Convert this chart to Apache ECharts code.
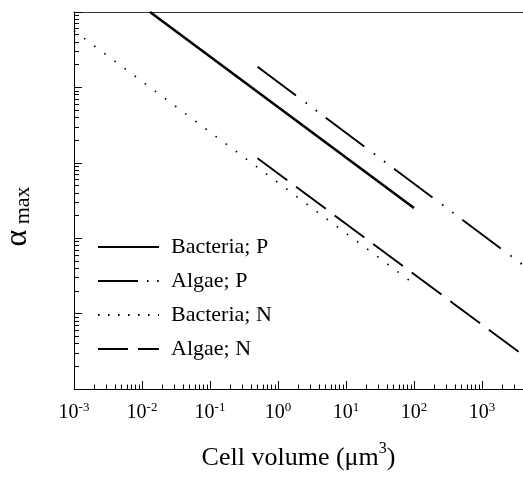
<!DOCTYPE html>
<html><head><meta charset="utf-8">
<script src="https://cdn.jsdelivr.net/npm/echarts@6/dist/echarts.min.js"></script>
<style>html,body{margin:0;padding:0;background:#fff}#c{width:523px;height:484px}</style>
</head><body><div id="c"></div>
<script>
// ---- data (cell volume in µm^3, alpha max) ----
const seriesNames = ['Bacteria; P', 'Algae; P', 'Bacteria; N', 'Algae; N'];
const bacteriaP_volume = [0.0131, 100];
const bacteriaP_alpha  = [100, 0.251];
const algaeP_volume    = [0.5, 4009];
const algaeP_alpha     = [18.8, 0.0441];
const bacteriaN_volume = [0.001, 100];
const bacteriaN_alpha  = [56.4, 0.0248];
const algaeN_volume    = [0.5, 4009];
const algaeN_alpha     = [1.15, 0.00282];
const xMajorTicks   = [0.001, 0.01, 0.1, 1, 10, 100, 1000];
const xTickExponents = ['-3', '-2', '-1', '0', '1', '2', '3'];
const yMajorTicks   = [0.001, 0.01, 0.1, 1, 10, 100];

function minorOf(majors, upper) {
  const out = [];
  majors.forEach(m => { for (let k = 2; k <= 9; k++) { const v = +(m * k).toPrecision(6); if (v <= upper) out.push(v); } });
  return out;
}
const X_MIN = 0.001, X_MAX = 4009, Y_MIN = 0.001, Y_MAX = 100;
const xMinorTicks = minorOf(xMajorTicks, X_MAX);
const yMinorTicks = minorOf(yMajorTicks.slice(0, -1), Y_MAX);

const FONT = 'Liberation Serif';
const pairs = (xs, ys) => xs.map((x, i) => [x, ys[i]]);

const baseX = {
  type: 'log', min: X_MIN, max: X_MAX, position: 'bottom',
  axisLine: { show: true, onZero: false, lineStyle: { color: '#000', width: 1 } },
  splitLine: { show: false }, minorTick: { show: false }
};
const baseY = {
  type: 'log', min: Y_MIN, max: Y_MAX, position: 'left',
  axisLine: { show: true, onZero: false, lineStyle: { color: '#000', width: 1 } },
  splitLine: { show: false }, axisLabel: { show: false }
};

const chart = echarts.init(document.getElementById('c'), null, { renderer: 'canvas' });
chart.setOption({
  animation: false,
  backgroundColor: '#fff',
  textStyle: { fontFamily: FONT, color: '#000' },
  grid: { left: 74, right: 0, top: 12, bottom: 95, containLabel: false, outerBoundsMode: 'none' },
  xAxis: [
    Object.assign({}, baseX, {
      axisTick: { show: true, inside: true, length: 8, customValues: xMajorTicks, lineStyle: { color: '#000' } },
      axisLabel: {
        show: true, margin: 12, customValues: xMajorTicks,
        formatter: function (v) {
          const i = xMajorTicks.findIndex(t => Math.abs(Math.log10(t) - Math.log10(v)) < 1e-6);
          return '{b|10}{s|' + xTickExponents[i] + '}';
        },
        rich: {
          b: { fontFamily: FONT, fontSize: 20, color: '#000', lineHeight: 22, verticalAlign: 'bottom' },
          s: { fontFamily: FONT, fontSize: 13, color: '#000', lineHeight: 22, verticalAlign: 'top', padding: [0, 0, 0, 0] }
        }
      },
      name: '{n|Cell volume (μm}{s|3}{n|)}', nameLocation: 'middle', nameGap: 52,
      nameTextStyle: {
        rich: {
          n: { fontFamily: FONT, fontSize: 26, color: '#000', lineHeight: 30, verticalAlign: 'bottom' },
          s: { fontFamily: FONT, fontSize: 16, color: '#000', lineHeight: 30, verticalAlign: 'top' }
        }
      }
    }),
    Object.assign({}, baseX, {
      axisLine: { show: false, onZero: false },
      axisTick: { show: true, inside: true, length: 4.5, customValues: xMinorTicks, lineStyle: { color: '#000' } },
      axisLabel: { show: false }
    }),
    Object.assign({}, baseX, {
      position: 'top',
      axisLine: { show: true, onZero: false, lineStyle: { color: '#333', width: 1 } },
      axisTick: { show: false }, axisLabel: { show: false }
    })
  ],
  yAxis: [
    Object.assign({}, baseY, {
      axisTick: { show: true, inside: true, length: 8, customValues: yMajorTicks, lineStyle: { color: '#000' } },
      name: '{a|α}{b| max}', nameLocation: 'middle', nameRotate: 90, nameGap: 40,
      nameTextStyle: {
        padding: [0, 32, 0, 0],
        rich: {
          a: { fontFamily: FONT, fontSize: 32, color: '#000', lineHeight: 36, verticalAlign: 'bottom' },
          b: { fontFamily: FONT, fontSize: 22, color: '#000', lineHeight: 36, verticalAlign: 'bottom' }
        }
      }
    }),
    Object.assign({}, baseY, {
      axisLine: { show: false, onZero: false },
      axisTick: { show: true, inside: true, length: 5, customValues: yMinorTicks, lineStyle: { color: '#000' } }
    })
  ],
  legend: {
    orient: 'vertical', left: 97, top: 236, padding: 0,
    itemWidth: 61, itemHeight: 14, itemGap: 12,
    itemStyle: { opacity: 0 },
    textStyle: { fontFamily: FONT, fontSize: 22, color: '#000', lineHeight: 22, padding: [0, 0, 0, 7] },
    data: [
      { name: seriesNames[0] },
      { name: seriesNames[1], lineStyle: { type: [40, 9, 1.6, 8.5, 1.6, 10] } },
      { name: seriesNames[2], lineStyle: { type: [1.6, 8.4] } },
      { name: seriesNames[3], lineStyle: { type: [30, 10] } }
    ]
  },
  series: [
    { name: seriesNames[0], type: 'line', symbol: 'none', data: pairs(bacteriaP_volume, bacteriaP_alpha),
      lineStyle: { color: '#000', width: 2.6, type: 'solid' }, itemStyle: { color: '#000' } },
    { name: seriesNames[1], type: 'line', symbol: 'none', data: pairs(algaeP_volume, algaeP_alpha),
      lineStyle: { color: '#000', width: 1.9, type: [48, 12, 1.6, 11, 1.6, 11] }, itemStyle: { color: '#000' } },
    { name: seriesNames[2], type: 'line', symbol: 'none', data: pairs(bacteriaN_volume, bacteriaN_alpha),
      lineStyle: { color: '#000', width: 1.6, type: [1.6, 11] }, itemStyle: { color: '#000' } },
    { name: seriesNames[3], type: 'line', symbol: 'none', data: pairs(algaeN_volume, algaeN_alpha),
      lineStyle: { color: '#000', width: 1.9, type: [37, 11] }, itemStyle: { color: '#000' } }
  ]
});
</script></body></html>
